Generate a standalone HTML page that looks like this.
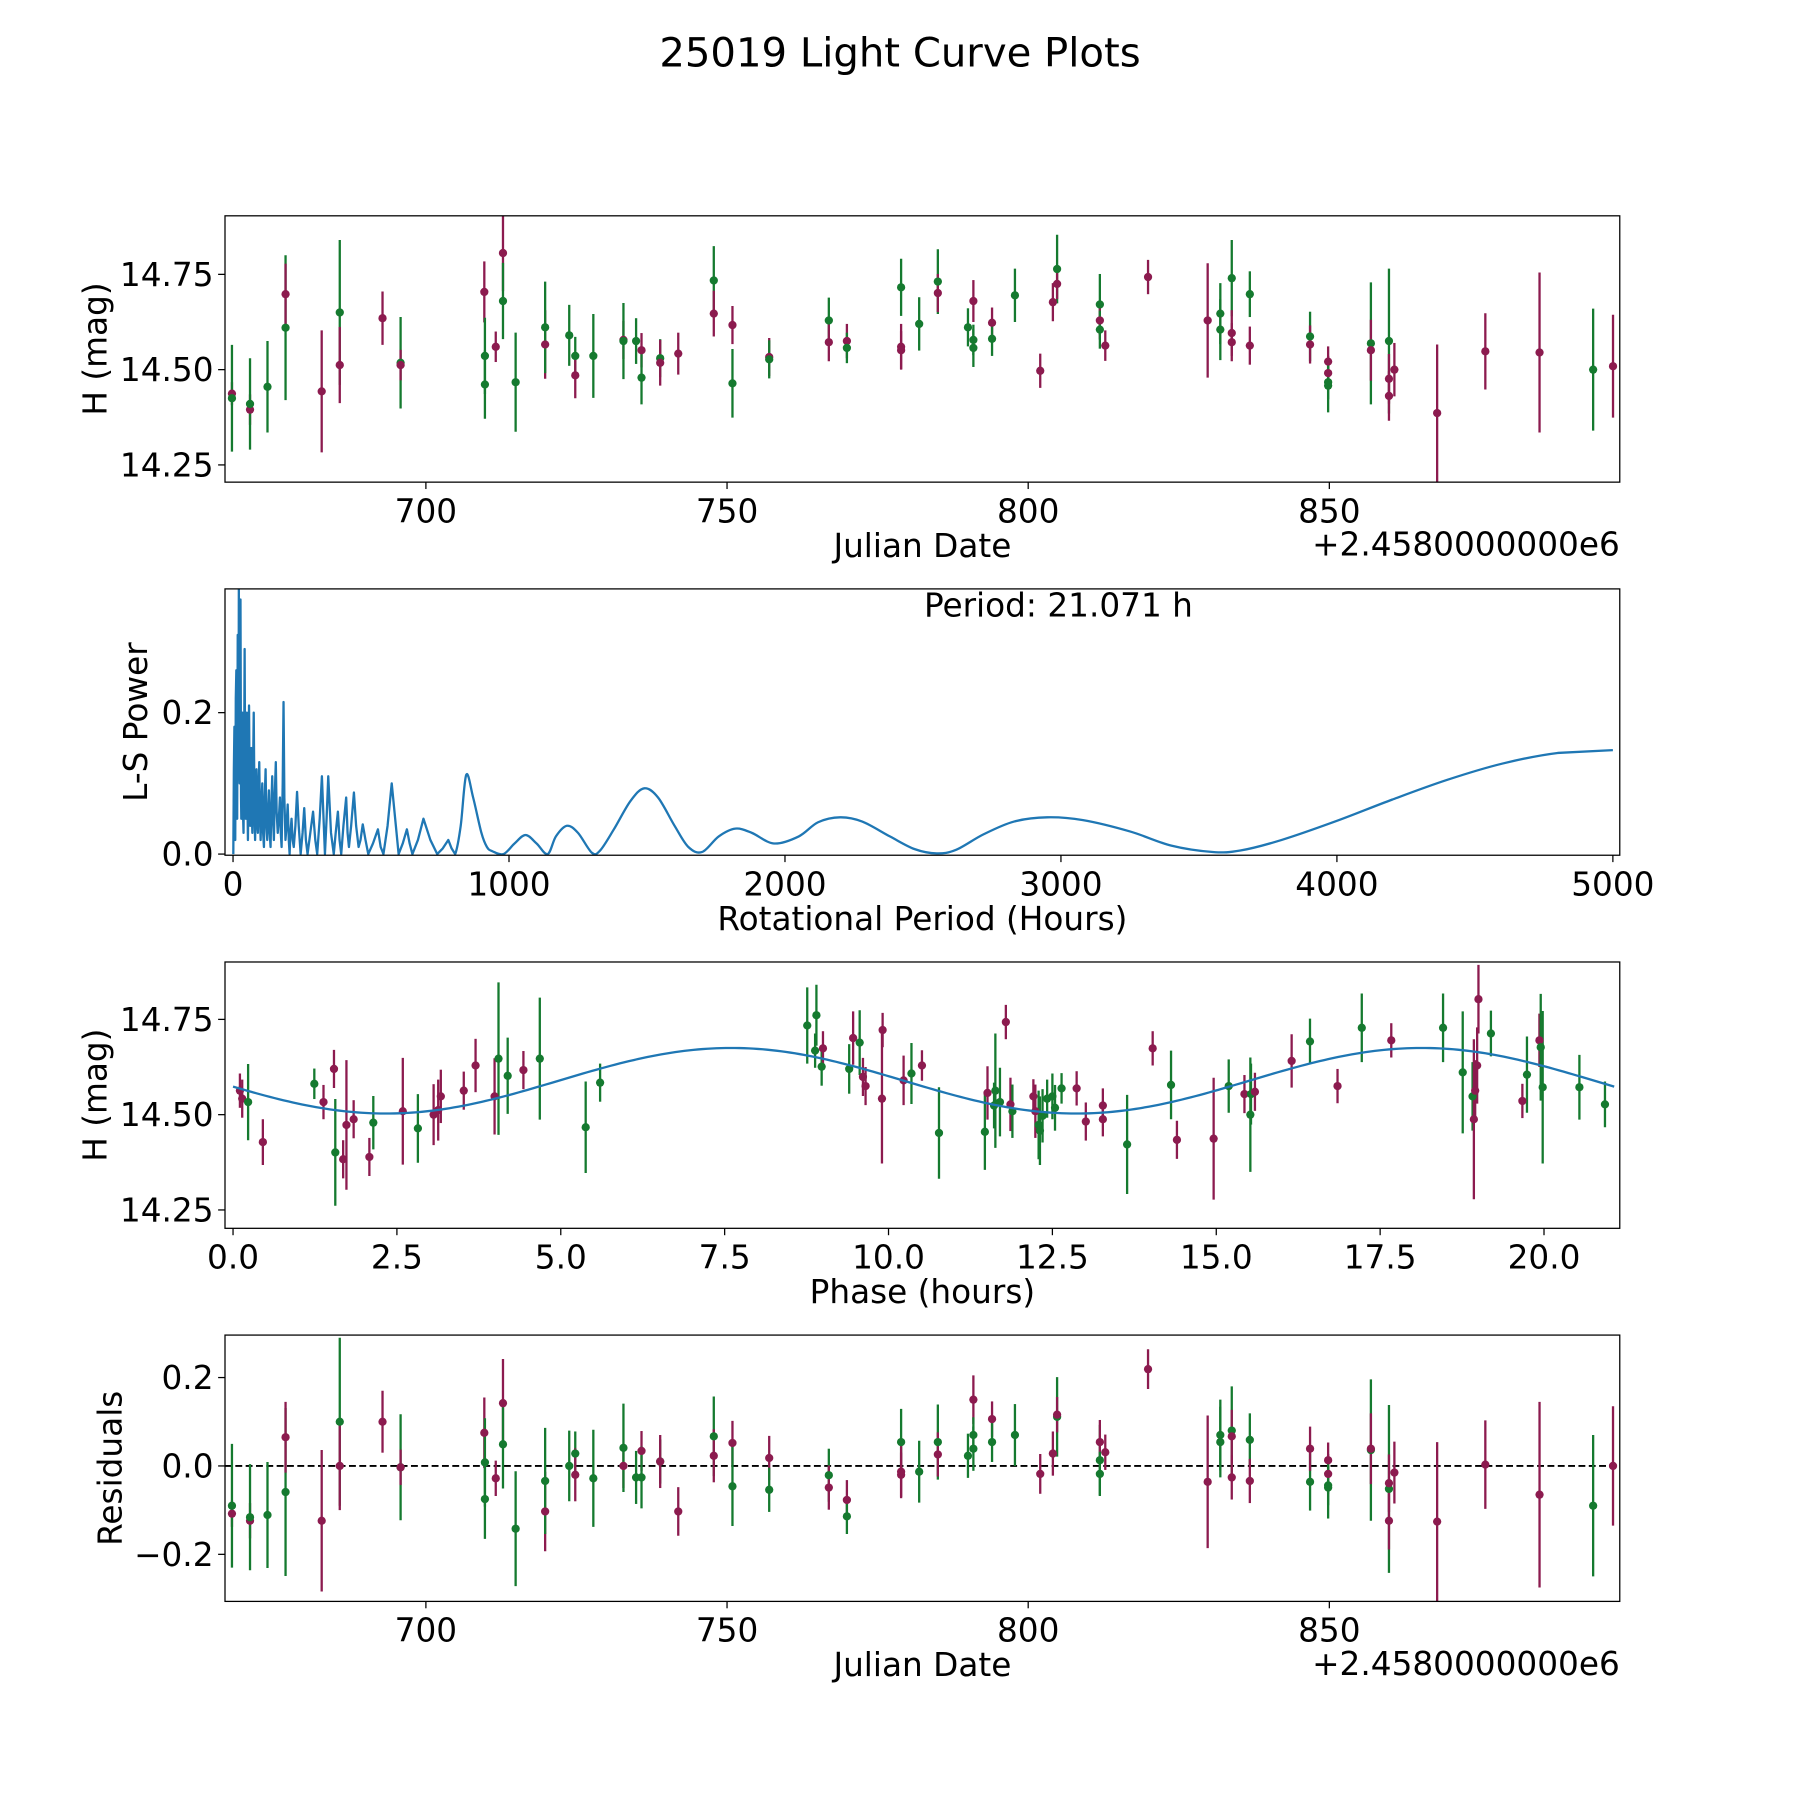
<!DOCTYPE html>
<html><head><meta charset="utf-8"><title>25019 Light Curve Plots</title>
<style>
html,body{margin:0;padding:0;background:#fff;}
svg{display:block;font-family:"DejaVu Sans","Liberation Sans",sans-serif;}
</style></head>
<body>
<svg id="fig" xmlns="http://www.w3.org/2000/svg" width="1800" height="1800" viewBox="0 0 1568 1568">
<rect x="0" y="0" width="1568" height="1568" fill="#fff"/>
<text x="784" y="58" font-size="35" text-anchor="middle" fill="#000">25019 Light Curve Plots</text>
</svg>
<script>
// ---------- DATA ----------
const obsDate = [667.8,667.8,670.8,670.8,673.7,676.7,676.7,682.7,685.7,685.7,692.8,695.8,695.8,709.7,709.8,709.8,711.6,712.8,712.8,714.9,719.8,719.8,723.8,724.8,724.8,727.8,732.8,732.8,734.9,735.8,735.8,738.9,738.9,741.9,747.8,747.8,750.9,750.9,757.0,757.0,766.9,766.9,769.9,769.9,778.9,778.9,778.9,781.9,785.0,785.0,790.0,790.9,790.9,790.9,794.0,794.0,797.8,802.0,804.1,804.8,804.8,811.9,811.9,811.9,812.8,819.9,829.8,831.9,831.9,833.8,833.8,833.8,836.8,836.8,846.8,846.8,849.8,849.8,849.8,849.8,856.9,856.9,859.9,859.9,859.9,860.8,867.9,875.9,884.9,893.8,897.1];
const obsMag = [14.437,14.425,14.395,14.41,14.455,14.61,14.698,14.443,14.65,14.512,14.635,14.518,14.512,14.704,14.536,14.461,14.56,14.806,14.68,14.467,14.566,14.611,14.59,14.536,14.485,14.536,14.578,14.575,14.575,14.551,14.479,14.53,14.518,14.542,14.734,14.647,14.617,14.464,14.533,14.527,14.629,14.572,14.575,14.557,14.716,14.56,14.551,14.62,14.731,14.701,14.611,14.68,14.578,14.557,14.623,14.581,14.695,14.497,14.677,14.764,14.725,14.671,14.629,14.605,14.563,14.743,14.629,14.647,14.605,14.74,14.596,14.572,14.698,14.563,14.587,14.566,14.521,14.491,14.467,14.458,14.569,14.551,14.575,14.476,14.431,14.5,14.386,14.548,14.545,14.5,14.509];
const obsErr = [0.03,0.14,0.04,0.12,0.12,0.19,0.08,0.16,0.19,0.1,0.07,0.12,0.04,0.08,0.1,0.09,0.04,0.1,0.1,0.13,0.09,0.12,0.08,0.05,0.06,0.11,0.05,0.1,0.06,0.045,0.07,0.05,0.06,0.055,0.09,0.06,0.05,0.09,0.05,0.05,0.06,0.05,0.045,0.04,0.075,0.06,0.05,0.07,0.085,0.05,0.05,0.055,0.04,0.05,0.04,0.045,0.07,0.045,0.05,0.09,0.04,0.08,0.05,0.05,0.04,0.045,0.15,0.08,0.08,0.1,0.06,0.05,0.06,0.05,0.065,0.05,0.04,0.045,0.045,0.07,0.16,0.08,0.19,0.065,0.065,0.07,0.18,0.1,0.21,0.16,0.135];
const obsBand = "mgmgggmmgm" + "mgmmggmmgg" + "mgggmgmggm" + "ggmmgmmgmg" + "gmmggmmggm" + "gmggmggmmg" + "mgmgmmmggg" + "mmgmgmmmgg" + "gmgmmmmmmgm";
const residuals = [-0.108,-0.09,-0.124,-0.116,-0.111,-0.059,0.065,-0.124,0.10,0.0,0.10,-0.003,-0.003,0.075,0.008,-0.075,-0.028,0.142,0.049,-0.142,-0.103,-0.034,0.0,0.028,-0.02,-0.028,0.0,0.041,-0.026,0.034,-0.026,0.01,0.01,-0.103,0.067,0.023,0.052,-0.046,0.018,-0.054,-0.021,-0.049,-0.077,-0.114,0.054,-0.013,-0.02,-0.013,0.054,0.026,0.023,0.15,0.07,0.039,0.106,0.054,0.07,-0.018,0.028,0.111,0.116,0.013,0.054,-0.018,0.031,0.219,-0.036,0.07,0.054,0.08,0.067,-0.026,0.059,-0.034,-0.036,0.039,0.013,-0.018,-0.044,-0.049,0.036,0.039,-0.052,-0.039,-0.124,-0.015,-0.126,0.003,-0.065,-0.09,0.0];
const phaseHours = [0.105,0.14,0.23,0.455,1.24,1.38,1.54,1.56,1.68,1.73,1.84,2.08,2.14,2.59,2.82,3.06,3.13,3.17,3.52,3.70,3.99,4.05,4.19,4.43,4.68,5.38,5.60,8.76,8.88,8.90,8.98,9.0,9.40,9.46,9.56,9.61,9.65,9.90,9.91,10.23,10.35,10.51,10.77,11.47,11.51,11.61,11.63,11.70,11.79,11.86,11.89,12.21,12.24,12.29,12.31,12.35,12.42,12.5,12.54,12.64,12.87,13.01,13.27,13.27,13.64,14.03,14.31,14.4,14.96,15.19,15.43,15.52,15.53,15.59,16.15,16.43,16.85,17.22,17.67,18.46,18.76,18.91,18.93,18.95,18.98,19.0,19.19,19.67,19.74,19.93,19.95,19.98,20.54,20.93];
const phaseMag = [14.563,14.542,14.533,14.428,14.581,14.533,14.62,14.401,14.383,14.473,14.488,14.389,14.479,14.509,14.464,14.5,14.512,14.548,14.563,14.629,14.548,14.647,14.602,14.617,14.647,14.467,14.584,14.734,14.668,14.761,14.626,14.674,14.62,14.701,14.689,14.599,14.575,14.542,14.722,14.59,14.608,14.629,14.452,14.455,14.557,14.524,14.563,14.533,14.743,14.527,14.509,14.548,14.509,14.473,14.458,14.497,14.542,14.548,14.518,14.569,14.569,14.482,14.524,14.488,14.422,14.674,14.578,14.434,14.437,14.575,14.554,14.5,14.554,14.56,14.641,14.692,14.575,14.728,14.695,14.728,14.611,14.548,14.488,14.563,14.629,14.803,14.713,14.536,14.605,14.695,14.677,14.572,14.572,14.527];
const phaseErr = [0.045,0.05,0.1,0.06,0.04,0.045,0.05,0.14,0.05,0.17,0.05,0.05,0.07,0.14,0.09,0.08,0.08,0.07,0.05,0.07,0.1,0.2,0.1,0.05,0.16,0.12,0.05,0.1,0.045,0.08,0.05,0.045,0.065,0.07,0.085,0.05,0.05,0.17,0.045,0.065,0.08,0.04,0.12,0.1,0.07,0.06,0.15,0.09,0.045,0.07,0.07,0.045,0.07,0.09,0.09,0.07,0.05,0.06,0.06,0.04,0.045,0.05,0.045,0.045,0.13,0.045,0.09,0.05,0.16,0.07,0.05,0.15,0.08,0.05,0.07,0.06,0.045,0.09,0.045,0.09,0.16,0.09,0.21,0.08,0.1,0.09,0.06,0.045,0.1,0.07,0.14,0.2,0.085,0.06];
const phaseBand = "mmgmgmmgmm" + "mmgmgmmmmm" + "mggmgggggg" + "gmgmgmmmmm" + "gmggmgggmm" + "gmmggggggg" + "mmmmgmgmmg" + "mggmmgmgmg" + "ggmmmmgmgm" + "gggg";
const fitMean = [14.589];
const fitAmp = [0.086];
const fitPeakPhase = [7.6];
const fitPeriod = [21.071];
const lsPeriod = [1,3,5,7,8,10,12,14,15,17,18,20,21,23,24,26,27,29,30,32,34,36,38,40,42,44,46,48,50,52,54,56,58,60,62,64,66,68,70,72,75,78,80,83,85,88,90,93,95,98,100,103,106,109,112,115,118,121,124,127,130,133,136,139,142,145,148,151,155,158,162,166,170,173,176,180,183,186,190,194,198,202,205,208,212,216,220,226,232,238,245,252,258,264,270,280,290,298,305,314,322,328,333,339,345,355,365,372,380,386,392,400,410,415,420,428,438,446,455,462,470,480,490,507,525,535,545,560,575,590,600,615,630,640,650,670,690,715,740,760,780,792,805,825,845,870,900,920,940,980,1020,1060,1100,1140,1170,1210,1250,1300,1330,1380,1440,1490,1540,1600,1650,1700,1760,1820,1880,1960,2050,2120,2200,2280,2380,2470,2550,2620,2720,2830,2950,3080,3250,3400,3550,3650,3800,4000,4200,4400,4600,4800,5000];
const lsPower = [0.0,0.12,0.18,0.03,0.02,0.22,0.26,0.08,0.05,0.31,0.3,0.14,0.375,0.12,0.1,0.25,0.36,0.08,0.05,0.18,0.2,0.06,0.03,0.12,0.29,0.1,0.05,0.15,0.2,0.08,0.02,0.1,0.21,0.1,0.04,0.08,0.15,0.06,0.03,0.1,0.2,0.05,0.02,0.09,0.12,0.04,0.03,0.1,0.13,0.05,0.02,0.07,0.1,0.03,0.01,0.08,0.12,0.04,0.02,0.06,0.09,0.03,0.01,0.07,0.11,0.05,0.02,0.08,0.13,0.06,0.03,0.05,0.08,0.03,0.01,0.1,0.215,0.08,0.02,0.04,0.07,0.02,0.0,0.03,0.05,0.02,0.01,0.04,0.088,0.04,0.0,0.03,0.065,0.02,0.0,0.03,0.06,0.02,0.0,0.05,0.11,0.05,0.0,0.05,0.11,0.03,0.0,0.03,0.06,0.02,0.0,0.04,0.08,0.03,0.01,0.04,0.087,0.04,0.01,0.02,0.042,0.02,0.0,0.015,0.035,0.01,0.0,0.04,0.1,0.04,0.0,0.015,0.035,0.015,0.0,0.02,0.05,0.02,0.0,0.008,0.02,0.008,0.0,0.04,0.112,0.08,0.03,0.01,0.004,0.0,0.015,0.027,0.015,0.0,0.025,0.04,0.03,0.002,0.005,0.035,0.075,0.093,0.08,0.04,0.01,0.003,0.025,0.036,0.03,0.015,0.025,0.045,0.052,0.046,0.025,0.007,0.001,0.006,0.028,0.046,0.052,0.048,0.032,0.012,0.003,0.005,0.02,0.047,0.077,0.105,0.128,0.143,0.147];
const periodLabel = ["Period: 21.071 h"];
const dateTicks = [700,750,800,850];
const magTicks = [14.25,14.50,14.75];
const lsXTicks = [0,1000,2000,3000,4000,5000];
const lsYTicks = [0.0,0.2];
const phaseTicks = [0.0,2.5,5.0,7.5,10.0,12.5,15.0,17.5,20.0];
const residTicks = [-0.2,0.0,0.2];

// ---------- DRAWING ----------
const NS = "http://www.w3.org/2000/svg";
const svg = document.getElementById('fig');
const MAG = "#8c1b4f", GRN = "#157a2f", BLUE = "#1f77b4";
const L = 196, R = 1411, FS = 28.5;
function el(tag, attrs, parent) {
  const e = document.createElementNS(NS, tag);
  for (const k in attrs) e.setAttribute(k, attrs[k]);
  (parent || svg).appendChild(e);
  return e;
}
function scale(d0, d1, p0, p1) { return v => p0 + (v - d0) * (p1 - p0) / (d1 - d0); }

function axes(name, top, bottom, xs, ys, xt, yt, xfmt, yfmt, xlabel, ylabel, ylabelX) {
  const g = el('g', {});
  
  
  const clipId = name + '-clip';
  const cp = el('clipPath', {id: clipId}, g);
  el('rect', {x: L, y: top, width: R - L, height: bottom - top}, cp);
  const plot = el('g', {'clip-path': 'url(#' + clipId + ')'}, g);
  
  
  const ticks = el('g', {}, g);
  xt.forEach(v => {
    const x = xs(v);
    el('line', {x1: x, x2: x, y1: bottom, y2: bottom + 6, stroke: '#000', 'stroke-width': 1.1}, ticks);
    const t = el('text', {x: x, y: bottom + 35, 'font-size': FS, 'text-anchor': 'middle'}, ticks);
    
    
    t.textContent = xfmt(v);
  });
  yt.forEach(v => {
    const y = ys(v);
    el('line', {x1: L - 6, x2: L, y1: y, y2: y, stroke: '#000', 'stroke-width': 1.1}, ticks);
    const t = el('text', {x: L - 10, y: y + 10, 'font-size': FS, 'text-anchor': 'end'}, ticks);
    
    
    t.textContent = yfmt(v);
  });
  const xl = el('text', {x: (L + R) / 2, y: bottom + 65, 'font-size': FS, 'text-anchor': 'middle'}, g);
  
  
  xl.textContent = xlabel;
  const cy = (top + bottom) / 2;
  const yl = el('text', {x: ylabelX, y: cy, 'font-size': FS, 'text-anchor': 'middle', transform: 'rotate(-90 ' + ylabelX + ' ' + cy + ')'}, g);
  
  
  yl.textContent = ylabel;
  return {g, plot, frame: () => el('rect', {x: L, y: top, width: R - L, height: bottom - top, fill: 'none', stroke: '#000', 'stroke-width': 1.1}, g)};
}

function errPoints(plot, xs, ys, xv, yv, ev, bands, nm) {
  for (let i = 0; i < xv.length; i++) {
    const c = bands[i] === 'g' ? GRN : MAG;
    const x = xs(xv[i]);
    const bar = el('line', {x1: x, x2: x, y1: ys(yv[i] - ev[i]), y2: ys(yv[i] + ev[i]), stroke: c, 'stroke-width': 2}, plot);
    
    
  }
  for (let i = 0; i < xv.length; i++) {
    const c = bands[i] === 'g' ? GRN : MAG;
    const p = el('circle', {cx: xs(xv[i]), cy: ys(yv[i]), r: 3.6, fill: c}, plot);
    
    
  }
}

const dateX = scale(700, 850, 371, 1158);
const fmtInt = v => String(v);
const fmt2 = v => v.toFixed(2);
const fmt1 = v => v.toFixed(1);

// Panel 1
{
  const top = 188, bottom = 420;
  const ys = scale(14.50, 14.75, 322, 239);
  const a = axes('light-curve-panel', top, bottom, dateX, ys, dateTicks, magTicks, fmtInt, fmt2, 'Julian Date', 'H (mag)', 93);
  errPoints(a.plot, dateX, ys, obsDate, obsMag, obsErr, obsBand, 'observation');
  a.frame();
  const off = el('text', {x: R, y: 484, 'font-size': FS, 'text-anchor': 'end'}, a.g);
  
  
  off.textContent = '+2.4580000000e6';
}
// Panel 2
{
  const top = 513, bottom = 745;
  const xs = scale(0, 5000, 203, 1405);
  const ys = scale(0, 0.375, 744, 513);
  const a = axes('periodogram-panel', top, bottom, xs, ys, lsXTicks, lsYTicks, fmtInt, fmt1, 'Rotational Period (Hours)', 'L-S Power', 128);
  const px = lsPeriod.map(xs), py = lsPower.map(ys);
  let d = 'M' + px[0].toFixed(2) + ' ' + py[0].toFixed(2);
  for (let i = 1; i < px.length; i++) {
    if (lsPeriod[i - 1] >= 800 && i >= 2 && i + 1 < px.length) {
      const c1x = px[i - 1] + (px[i] - px[i - 2]) / 6, c1y = py[i - 1] + (py[i] - py[i - 2]) / 6;
      const c2x = px[i] - (px[i + 1] - px[i - 1]) / 6, c2y = py[i] - (py[i + 1] - py[i - 1]) / 6;
      d += 'C' + c1x.toFixed(2) + ' ' + c1y.toFixed(2) + ' ' + c2x.toFixed(2) + ' ' + c2y.toFixed(2) + ' ' + px[i].toFixed(2) + ' ' + py[i].toFixed(2);
    } else {
      d += 'L' + px[i].toFixed(2) + ' ' + py[i].toFixed(2);
    }
  }
  const ln = el('path', {d: d, fill: 'none', stroke: BLUE, 'stroke-width': 2, 'stroke-linejoin': 'round'}, a.plot);
  
  
  a.frame();
  const t = el('text', {x: 922, y: 537, 'font-size': FS, 'text-anchor': 'middle'}, a.g);
  
  
  t.textContent = periodLabel[0];
}
// Panel 3
{
  const top = 838, bottom = 1070;
  const xs = scale(0, 20, 203, 1345);
  const ys = scale(14.50, 14.75, 971, 888);
  const a = axes('phase-panel', top, bottom, xs, ys, phaseTicks, magTicks, fmt1, fmt2, 'Phase (hours)', 'H (mag)', 93);
  errPoints(a.plot, xs, ys, phaseHours, phaseMag, phaseErr, phaseBand, 'phased-observation');
  let d = '';
  const P = fitPeriod[0];
  for (let i = 0; i <= 300; i++) {
    const ph = P * i / 300;
    const m = fitMean[0] + fitAmp[0] * Math.cos(4 * Math.PI * (ph - fitPeakPhase[0]) / P);
    d += (i ? 'L' : 'M') + xs(ph).toFixed(2) + ' ' + ys(m).toFixed(2);
  }
  const fit = el('path', {d: d, fill: 'none', stroke: BLUE, 'stroke-width': 2}, a.plot);
  
  
  a.frame();
}
// Panel 4
{
  const top = 1163, bottom = 1395;
  const ys = scale(0, 0.2, 1277, 1200);
  const a = axes('residuals-panel', top, bottom, dateX, ys, dateTicks, residTicks, fmtInt, v => (v < 0 ? '\u2212' + Math.abs(v).toFixed(1) : v.toFixed(1)), 'Julian Date', 'Residuals', 106);
  const z = el('line', {x1: L, x2: R, y1: ys(0), y2: ys(0), stroke: '#000', 'stroke-width': 1.6, 'stroke-dasharray': '6,3'}, a.plot);
  
  
  errPoints(a.plot, dateX, ys, obsDate, residuals, obsErr, obsBand, 'residual');
  a.frame();
  const off = el('text', {x: R, y: 1459, 'font-size': FS, 'text-anchor': 'end'}, a.g);
  
  
  off.textContent = '+2.4580000000e6';
}
</script>
</body></html>
